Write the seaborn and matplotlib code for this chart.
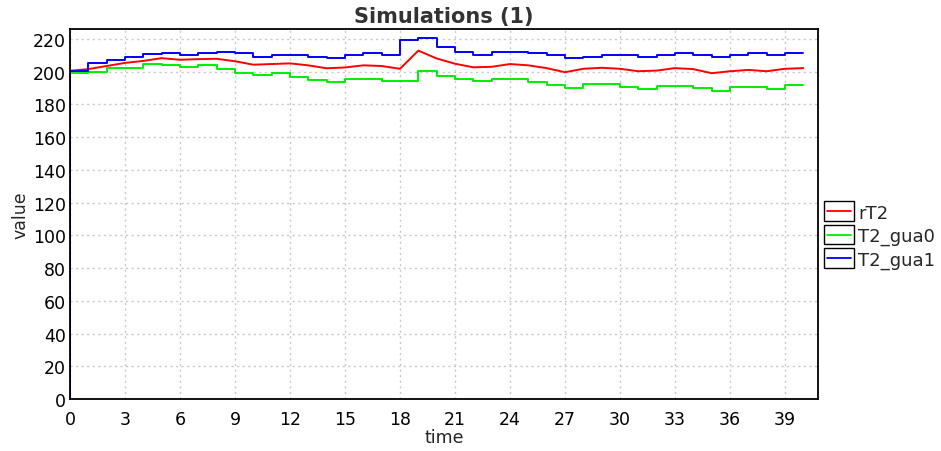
import matplotlib
matplotlib.use("Agg")
import matplotlib.pyplot as plt
from matplotlib.legend_handler import HandlerBase
from matplotlib.lines import Line2D
from matplotlib.patches import Rectangle
import numpy as np
import pandas as pd
import seaborn as sns

# time points (integer steps of the simulation)
time = list(range(0, 41))

# continuous output
rT2 = [200.5, 201.5, 203.4, 205.3, 206.5, 208.2, 207.2, 207.6, 207.8, 206.3,
       204.2, 204.6, 205.0, 203.8, 202.0, 202.5, 203.8, 203.4, 201.7, 212.8,
       208.0, 204.8, 202.6, 202.9, 204.6, 203.8, 202.1, 199.6, 201.7, 202.3,
       201.7, 200.2, 200.6, 202.1, 201.5, 199.0, 200.2, 201.0, 200.2, 201.7,
       202.1]

# piecewise constant outputs, value held from t to t+1
T2_gua0 = [199.0, 199.6, 202.1, 202.1, 204.8, 204.2, 202.7, 203.8, 201.7, 199.0,
           197.9, 199.0, 196.4, 194.7, 193.7, 195.4, 195.4, 194.3, 194.3, 200.6,
           197.5, 195.4, 194.3, 195.4, 195.4, 193.7, 191.6, 190.1, 192.6, 192.6,
           190.5, 189.1, 191.2, 191.2, 189.7, 188.4, 190.5, 190.5, 189.5, 191.6,
           191.6]
T2_gua1 = [200.4, 205.3, 207.0, 209.0, 210.5, 211.6, 210.1, 211.6, 212.2, 211.6,
           209.0, 210.1, 210.1, 209.0, 208.0, 210.1, 211.6, 210.1, 219.2, 220.2,
           215.0, 211.8, 210.1, 212.0, 212.0, 211.2, 210.1, 208.0, 209.0, 210.1,
           210.1, 209.0, 210.1, 211.2, 210.1, 209.0, 210.1, 211.2, 210.1, 211.2,
           211.2]

# every signal starts from zero at t=0
start_value = 0.0

names = ["rT2", "T2_gua0", "T2_gua1"]
colors = ["#ff0000", "#00ee00", "#0000ff"]


class BoxLineHandler(HandlerBase):
    """legend key: black outlined box with the series line across it"""
    def create_artists(self, legend, orig_handle, xdescent, ydescent,
                       width, height, fontsize, trans):
        box = Rectangle((-xdescent, -ydescent - 3), width, height + 6,
                        facecolor="white", edgecolor="black", lw=1.0,
                        transform=trans)
        y = -ydescent + height / 2
        line = Line2D([-xdescent + 2, -xdescent + width - 2], [y, y],
                      color=orig_handle.get_color(), lw=1.3, transform=trans)
        return [box, line]


def make_frame(values):
    return pd.DataFrame({"time": [time[0]] + time,
                         "value": [start_value] + values})


sns.set_theme(style="white")
plt.rcParams["font.family"] = ["DejaVu Sans"]

fig = plt.figure(figsize=(9.41, 4.52), dpi=100)
ax = fig.add_axes([70 / 941, 1 - 400 / 452, 748 / 941, 370 / 452])

handles = []
for vals, name, col in zip([rT2, T2_gua0, T2_gua1], names, colors):
    style = "default" if name == "rT2" else "steps-post"
    sns.lineplot(data=make_frame(vals), x="time", y="value", ax=ax,
                 estimator=None, sort=False, color=col, lw=1.4,
                 drawstyle=style, legend=False)
    handles.append(Line2D([], [], color=col))

ax.set_xlim(0, 40.8)
ax.set_ylim(0, 226)
ax.set_xticks(np.arange(0, 40, 3))
ax.set_yticks(np.arange(0, 221, 20))
ax.grid(True, color="#c8c8c8", linestyle=(0, (1.5, 2.5)), lw=1.0)
ax.tick_params(axis="both", length=0, labelsize=12.5, colors="black")
ax.tick_params(axis="x", pad=8)
ax.tick_params(axis="y", pad=3)
for sp in ax.spines.values():
    sp.set_color("black")
    sp.set_linewidth(1.3)

ax.set_xlabel("time", fontsize=12.5, labelpad=0)
ax.set_ylabel("value", fontsize=12.5, labelpad=2)
ax.set_title("Simulations (1)", fontsize=15, fontweight="bold",
             color="#333333", pad=5)

ax.legend(handles, names, handler_map={Line2D: BoxLineHandler()},
          loc="center left", bbox_to_anchor=(1 + 6 / 748, 0.44), frameon=False,
          fontsize=13, handlelength=1.65, handleheight=0.6,
          handletextpad=0.25, labelspacing=0.3, borderaxespad=0,
          borderpad=0)

fig.savefig("out.png", dpi=100)
